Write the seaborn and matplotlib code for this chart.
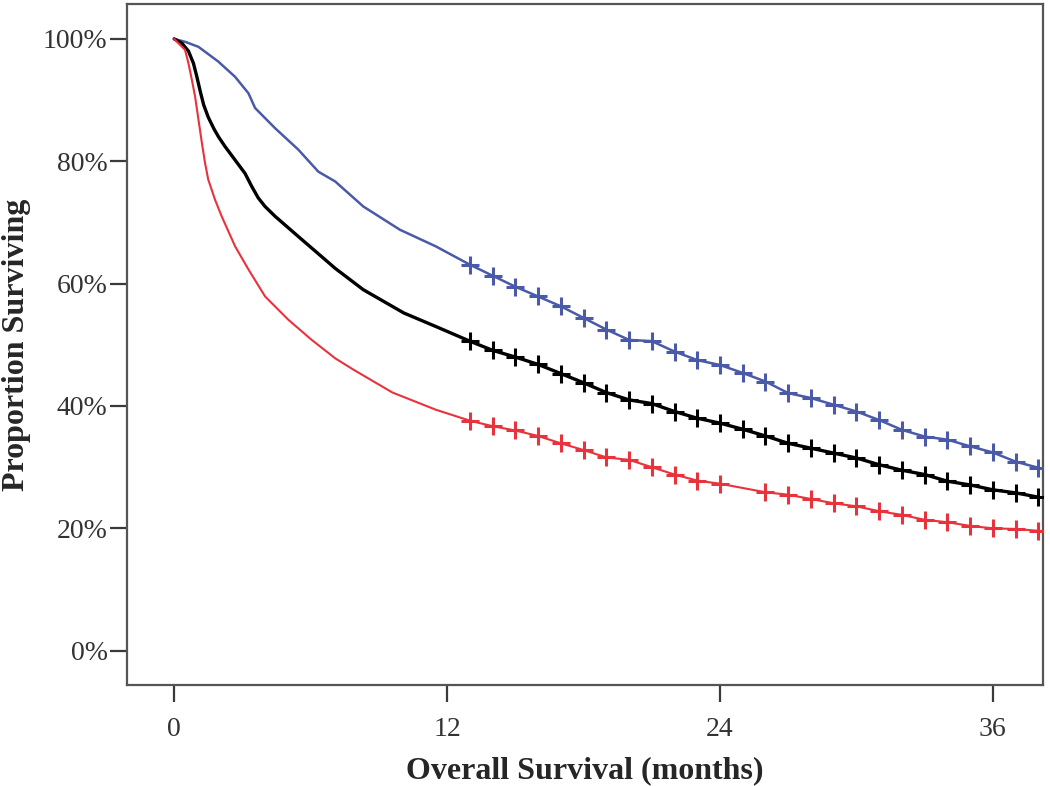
import numpy as np
import pandas as pd
import matplotlib
matplotlib.use("Agg")
import matplotlib.pyplot as plt
import seaborn as sns
from matplotlib.ticker import FuncFormatter

# ---- data ----
months_tail = list(range(13, 39))

blue_t = [0, 0.5, 1.07, 1.94, 2.68, 3.27, 3.56, 4.44, 5.46, 6.34, 7.08, 8.32, 9.93, 11.5] + months_tail
blue_y = [100, 99.5, 98.7, 96.3, 93.8, 91.1, 88.7, 85.4, 81.9, 78.3, 76.7, 72.6, 68.8, 66.1,
          63.1, 61.3, 59.5, 57.9, 56.3, 54.4, 52.5, 50.8, 50.6, 48.9, 47.5, 46.7, 45.4,
          44.0, 42.1, 41.3, 40.2, 39.1, 37.7, 36.1, 35.0, 34.5, 33.4, 32.4, 30.9, 29.9]

black_t = [0, 0.34, 0.63, 0.85, 1.0, 1.15, 1.3, 1.5, 1.75, 1.95, 2.24, 2.68, 3.12, 3.41, 3.7, 4.0,
           4.44, 5.46, 6.49, 7.08, 8.32, 10.1, 11.5] + months_tail
black_y = [100, 99.3, 98.0, 96.0, 93.8, 91.4, 89.2, 87.2, 85.3, 84.0, 82.4, 80.2, 78.0, 75.9, 74.0, 72.6,
           71.0, 67.7, 64.4, 62.5, 59.0, 55.2, 53.0,
           50.6, 49.1, 48.0, 46.8, 45.3, 43.8, 42.2, 41.0, 40.4, 39.1, 38.0, 37.2, 36.2,
           35.1, 33.9, 33.1, 32.3, 31.5, 30.4, 29.5, 28.8, 27.7, 27.1, 26.3, 25.8, 25.1]

red_t = [0, 0.48, 0.63, 0.78, 0.92, 1.07, 1.22, 1.36, 1.5, 1.8, 2.09, 2.68, 3.27, 4.0, 5.02, 6.05,
         7.08, 7.9, 9.6, 11.5] + months_tail
red_y = [100, 98.2, 96.0, 93.3, 90.6, 86.8, 83.0, 79.7, 77.0, 73.7, 71.0, 66.1, 62.3, 57.9, 54.1, 50.8,
         47.8, 45.9, 42.2, 39.4,
         37.6, 36.7, 36.0, 35.1, 33.9, 32.8, 31.6, 31.2, 30.0, 28.8, 27.8, 27.3, 26.6,
         25.9, 25.5, 24.8, 24.1, 23.6, 22.8, 22.2, 21.4, 21.0, 20.4, 20.0, 19.9, 19.6]

blue_censor = months_tail
black_censor = months_tail
red_censor = [m for m in months_tail if m != 25]

x_ticks = [0, 12, 24, 36]
y_ticks = [0, 20, 40, 60, 80, 100]

groups = ["blue", "black", "red"]
colors = {"blue": "#4a5aa8", "black": "#000000", "red": "#e8323c"}
widths = {"blue": 1.8, "black": 2.4, "red": 1.5}

curves = {"blue": (blue_t, blue_y), "black": (black_t, black_y), "red": (red_t, red_y)}
censors = {"blue": blue_censor, "black": black_censor, "red": red_censor}

# ---- figure ----
sns.set_theme(style="white")
plt.rcParams["font.family"] = ["Liberation Serif", "DejaVu Serif"]

fig = plt.figure(figsize=(10.5, 7.86), dpi=100)
ax = fig.add_axes([0.121, 0.1285, 0.8723, 0.8664])

for g in groups:
    t, y = curves[g]
    df = pd.DataFrame({"t": t, "y": y})
    sns.lineplot(data=df, x="t", y="y", ax=ax, color=colors[g], linewidth=widths[g],
                 estimator=None, sort=False)
    ct = censors[g]
    cy = np.interp(ct, t, y)
    cdf = pd.DataFrame({"t": ct, "y": cy})
    sns.scatterplot(data=cdf, x="t", y="y", ax=ax, marker="+", s=150, color=colors[g],
                    linewidth=2.2, zorder=3)

ax.set_xlim(-2.07, 38.2)
ax.set_ylim(-5.6, 105.7)
ax.set_xticks(x_ticks)
ax.set_yticks(y_ticks)
ax.yaxis.set_major_formatter(FuncFormatter(lambda v, p: f"{int(v)}%"))

ax.tick_params(axis="both", which="major", direction="out", length=12.5, width=1.6,
               color="#3a3a3a", labelsize=20, labelcolor="#333333",
               bottom=True, left=True)
ax.tick_params(axis="x", pad=10.5)
ax.tick_params(axis="y", pad=1.5)
for s in ax.spines.values():
    s.set_color("#555555")
    s.set_linewidth(1.6)

ax.set_xlabel("Overall Survival (months)", fontsize=23, fontweight="bold")
ax.set_ylabel("Proportion Surviving", fontsize=23, fontweight="bold")
ax.xaxis.set_label_coords(0.5, -0.104)
ax.yaxis.set_label_coords(-0.105, 0.5)

fig.savefig("out.png", dpi=100)
